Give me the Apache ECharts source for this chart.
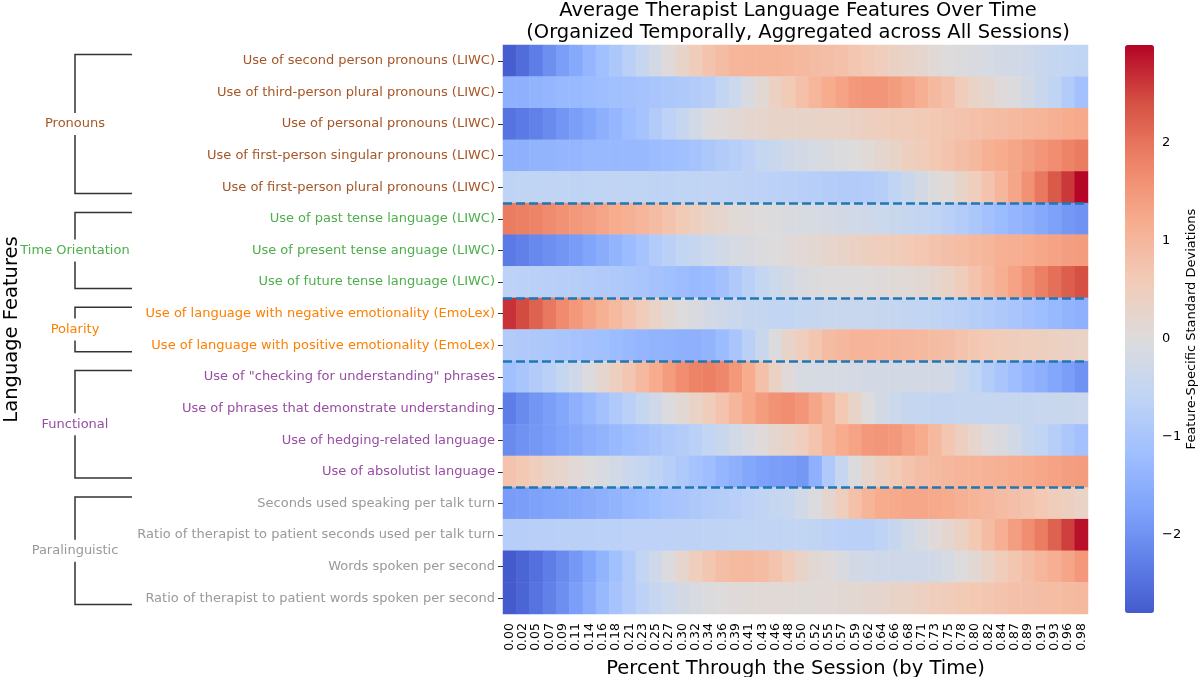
<!DOCTYPE html>
<html>
<head>
<meta charset="utf-8">
<script src="https://cdn.jsdelivr.net/npm/echarts@6/dist/echarts.min.js"></script>
<style>
html,body{margin:0;padding:0;background:#fff;}
#chart{width:1200px;height:677px;}
</style>
</head>
<body>
<div id="chart"></div>
<script>
// ---------------- DATA ----------------
const timeLabels = ['0.00','0.02','0.05','0.07','0.09','0.11','0.14','0.16','0.18','0.21','0.23','0.25','0.27','0.30','0.32','0.34','0.36','0.39','0.41','0.43','0.46','0.48','0.50','0.52','0.55','0.57','0.59','0.62','0.64','0.66','0.68','0.71','0.73','0.75','0.78','0.80','0.82','0.84','0.87','0.89','0.91','0.93','0.96','0.98'];

const featureLabels = [
  'Use of second person pronouns (LIWC)',
  'Use of third-person plural pronouns (LIWC)',
  'Use of personal pronouns (LIWC)',
  'Use of first-person singular pronouns (LIWC)',
  'Use of first-person plural pronouns (LIWC)',
  'Use of past tense language (LIWC)',
  'Use of present tense anguage (LIWC)',
  'Use of future tense language (LIWC)',
  'Use of language with negative emotionality (EmoLex)',
  'Use of language with positive emotionality (EmoLex)',
  'Use of "checking for understanding" phrases',
  'Use of phrases that demonstrate understanding',
  'Use of hedging-related language',
  'Use of absolutist language',
  'Seconds used speaking per talk turn',
  'Ratio of therapist to patient seconds used per talk turn',
  'Words spoken per second',
  'Ratio of therapist to patient words spoken per second'
];

const groupNames = ['Pronouns', 'Time Orientation', 'Polarity', 'Functional', 'Paralinguistic'];
const featureGroup = [0,0,0,0,0, 1,1,1, 2,2, 3,3,3,3, 4,4,4,4];

const secondPerson = [-2.75,-2.55,-2.3,-2.05,-1.8,-1.6,-1.35,-1.15,-0.95,-0.7,-0.45,-0.2,0.05,0.3,0.55,0.75,0.9,1.0,1.05,1.05,1.05,1.0,0.95,0.9,0.85,0.8,0.7,0.6,0.5,0.4,0.3,0.2,0.1,0.0,-0.05,-0.1,-0.15,-0.2,-0.25,-0.3,-0.4,-0.5,-0.55,-0.6];
const thirdPlural = [-1.45,-1.45,-1.4,-1.35,-1.3,-1.3,-1.25,-1.2,-1.15,-1.1,-1.05,-1.0,-0.95,-0.9,-0.85,-0.75,-0.55,-0.35,-0.1,0.15,0.4,0.6,0.8,1.0,1.2,1.35,1.5,1.55,1.55,1.45,1.3,1.15,0.95,0.8,0.55,0.35,0.2,0.05,-0.05,-0.2,-0.4,-0.6,-0.85,-1.1];
const personal = [-2.45,-2.35,-2.25,-2.1,-1.95,-1.8,-1.65,-1.5,-1.35,-1.2,-1.05,-0.85,-0.65,-0.45,-0.25,-0.05,0.05,0.15,0.2,0.25,0.3,0.3,0.3,0.3,0.35,0.35,0.4,0.45,0.5,0.55,0.55,0.6,0.65,0.7,0.75,0.8,0.85,0.9,0.95,1.0,1.05,1.1,1.2,1.25];
const firstSingular = [-1.45,-1.45,-1.4,-1.4,-1.35,-1.35,-1.3,-1.3,-1.3,-1.3,-1.3,-1.25,-1.2,-1.15,-1.05,-0.95,-0.85,-0.75,-0.65,-0.5,-0.4,-0.3,-0.2,-0.15,-0.1,-0.05,0.0,0.1,0.2,0.3,0.45,0.55,0.65,0.75,0.85,0.95,1.1,1.2,1.3,1.4,1.55,1.65,1.8,1.9];
const firstPlural = [-0.62,-0.6,-0.6,-0.58,-0.6,-0.62,-0.6,-0.6,-0.58,-0.6,-0.6,-0.62,-0.62,-0.6,-0.6,-0.58,-0.6,-0.62,-0.64,-0.66,-0.68,-0.7,-0.72,-0.75,-0.8,-0.85,-0.85,-0.82,-0.75,-0.6,-0.4,-0.2,-0.05,0.1,0.3,0.5,0.75,1.0,1.3,1.6,1.95,2.3,2.6,2.98];
const pastTense = [1.9,1.85,1.8,1.7,1.6,1.5,1.4,1.3,1.2,1.1,1.0,0.9,0.75,0.6,0.45,0.3,0.2,0.1,0.05,0.0,-0.05,-0.1,-0.12,-0.15,-0.18,-0.22,-0.26,-0.3,-0.35,-0.4,-0.45,-0.52,-0.6,-0.7,-0.82,-0.95,-1.1,-1.25,-1.35,-1.45,-1.6,-1.75,-1.9,-2.0];
const presentTense = [-2.35,-2.25,-2.15,-2.05,-1.95,-1.85,-1.7,-1.55,-1.4,-1.25,-1.05,-0.85,-0.7,-0.55,-0.45,-0.35,-0.25,-0.15,-0.1,-0.05,0.0,0.05,0.12,0.18,0.25,0.3,0.38,0.45,0.5,0.55,0.62,0.68,0.75,0.82,0.88,0.95,1.0,1.1,1.15,1.2,1.28,1.35,1.4,1.45];
const futureTense = [-0.65,-0.68,-0.7,-0.72,-0.75,-0.78,-0.82,-0.86,-0.9,-0.95,-1.0,-1.08,-1.15,-1.22,-1.28,-1.25,-1.1,-0.9,-0.7,-0.5,-0.35,-0.2,-0.1,-0.05,0.0,0.0,0.0,0.02,0.05,0.08,0.1,0.15,0.2,0.35,0.55,0.75,0.95,1.15,1.35,1.6,1.85,2.05,2.25,2.4];
const negativeEmo = [2.65,2.45,2.2,1.95,1.7,1.5,1.3,1.1,0.95,0.75,0.55,0.35,0.15,0.0,-0.1,-0.2,-0.3,-0.38,-0.45,-0.5,-0.55,-0.55,-0.5,-0.45,-0.42,-0.42,-0.42,-0.42,-0.45,-0.48,-0.52,-0.56,-0.6,-0.65,-0.7,-0.78,-0.85,-0.92,-1.0,-1.1,-1.2,-1.3,-1.4,-1.45];
const positiveEmo = [-0.85,-0.88,-0.92,-0.95,-1.0,-1.05,-1.1,-1.15,-1.25,-1.3,-1.35,-1.4,-1.42,-1.45,-1.45,-1.4,-1.25,-1.0,-0.7,-0.4,-0.05,0.3,0.5,0.7,0.9,0.98,1.02,1.02,1.0,1.0,0.98,0.95,0.9,0.85,0.75,0.68,0.62,0.58,0.52,0.48,0.45,0.42,0.38,0.35];
const checkingUnderstanding = [-1.15,-1.0,-0.85,-0.7,-0.5,-0.3,-0.05,0.2,0.45,0.7,0.95,1.2,1.45,1.65,1.8,1.85,1.75,1.5,1.2,0.8,0.4,0.05,-0.12,-0.15,-0.15,-0.15,-0.18,-0.2,-0.2,-0.22,-0.22,-0.2,-0.2,-0.25,-0.4,-0.6,-0.8,-1.0,-1.2,-1.35,-1.5,-1.65,-1.8,-2.0];
const demonstrateUnderstanding = [-2.3,-2.1,-1.95,-1.8,-1.65,-1.5,-1.3,-1.1,-0.9,-0.7,-0.5,-0.3,-0.05,0.15,0.35,0.55,0.75,1.0,1.25,1.45,1.6,1.65,1.55,1.3,1.0,0.65,0.3,0.0,-0.2,-0.35,-0.45,-0.5,-0.52,-0.52,-0.5,-0.5,-0.5,-0.48,-0.45,-0.45,-0.42,-0.4,-0.4,-0.38];
const hedging = [-2.1,-2.0,-1.9,-1.8,-1.7,-1.6,-1.5,-1.4,-1.3,-1.2,-1.1,-1.0,-0.9,-0.8,-0.7,-0.55,-0.4,-0.25,-0.1,0.05,0.2,0.35,0.5,0.75,1.0,1.2,1.35,1.5,1.55,1.5,1.35,1.2,0.95,0.7,0.45,0.25,0.05,-0.1,-0.25,-0.45,-0.6,-0.75,-0.95,-1.1];
const absolutist = [0.75,0.65,0.5,0.35,0.25,0.12,0.0,-0.12,-0.25,-0.38,-0.5,-0.62,-0.75,-0.9,-1.05,-1.2,-1.35,-1.5,-1.65,-1.75,-1.8,-1.85,-1.9,-1.45,-0.9,-0.45,-0.05,0.25,0.45,0.6,0.75,0.85,0.92,0.98,1.02,1.05,1.08,1.12,1.18,1.22,1.28,1.35,1.4,1.45];
const secondsPerTurn = [-1.85,-1.8,-1.75,-1.7,-1.65,-1.6,-1.55,-1.45,-1.4,-1.3,-1.25,-1.15,-1.05,-1.0,-0.92,-0.85,-0.78,-0.72,-0.65,-0.58,-0.5,-0.42,-0.25,-0.05,0.2,0.5,0.8,1.05,1.2,1.25,1.28,1.28,1.25,1.2,1.12,1.05,0.98,0.9,0.82,0.75,0.65,0.55,0.45,0.35];
const ratioSeconds = [-0.75,-0.75,-0.72,-0.72,-0.7,-0.7,-0.7,-0.68,-0.68,-0.66,-0.66,-0.65,-0.65,-0.64,-0.64,-0.62,-0.62,-0.6,-0.6,-0.58,-0.58,-0.56,-0.56,-0.6,-0.64,-0.68,-0.7,-0.7,-0.62,-0.45,-0.28,-0.12,0.05,0.2,0.4,0.65,0.9,1.15,1.4,1.65,1.9,2.2,2.55,2.9];
const wordsPerSecond = [-2.8,-2.65,-2.5,-2.3,-2.1,-1.9,-1.65,-1.4,-1.15,-0.85,-0.55,-0.3,-0.05,0.25,0.5,0.7,0.85,0.92,0.95,0.9,0.75,0.55,0.3,0.15,0.05,-0.1,-0.2,-0.28,-0.3,-0.32,-0.32,-0.3,-0.25,-0.15,0.0,0.15,0.35,0.55,0.7,0.85,1.0,1.15,1.3,1.5];
const ratioWords = [-2.8,-2.65,-2.45,-2.25,-2.05,-1.8,-1.55,-1.3,-1.05,-0.85,-0.65,-0.48,-0.35,-0.22,-0.12,-0.05,0.0,0.05,0.08,0.1,0.1,0.1,0.08,0.1,0.12,0.15,0.18,0.2,0.25,0.3,0.35,0.42,0.5,0.55,0.6,0.65,0.7,0.75,0.8,0.82,0.85,0.88,0.92,0.95];

const rowValues = [secondPerson, thirdPlural, personal, firstSingular, firstPlural,
  pastTense, presentTense, futureTense, negativeEmo, positiveEmo,
  checkingUnderstanding, demonstrateUnderstanding, hedging, absolutist,
  secondsPerTurn, ratioSeconds, wordsPerSecond, ratioWords];

const colorbarTicks = [-2, -1, 0, 1, 2];
const scaleMin = -2.8;
const scaleMax = 3.0;

// ---------------- STYLE ----------------
const FONT = '"DejaVu Sans", "Liberation Sans", sans-serif';
const groupColors = ['#a65628', '#4daf4a', '#ff7f00', '#984ea3', '#999999'];
const coolwarm = ['#3b4cc0','#5977e3','#7b9ff9','#9ebeff','#c0d4f5','#dddcdc','#f2cbb7','#f7ac8e','#ee8468','#d65244','#b40426'];

function hexToRgb(h){ return [parseInt(h.slice(1,3),16), parseInt(h.slice(3,5),16), parseInt(h.slice(5,7),16)]; }
function cw(t){
  t = Math.max(0, Math.min(1, t));
  const p = t * (coolwarm.length - 1);
  const i = Math.min(coolwarm.length - 2, Math.floor(p));
  const f = p - i;
  const a = hexToRgb(coolwarm[i]), b = hexToRgb(coolwarm[i+1]);
  const c = a.map((v,k)=>Math.round(v + (b[k]-v)*f));
  return 'rgb(' + c.join(',') + ')';
}
// colormap centred on 0 (diverging)
const vRange = Math.max(Math.abs(scaleMin), Math.abs(scaleMax));
const stopCount = 80;
const colorStops = [];
for (let k = 0; k <= stopCount; k++) {
  const v = scaleMin + (scaleMax - scaleMin) * k / stopCount;
  colorStops.push(cw(0.5 + v / (2 * vRange)));
}

// ---------------- BUILD ----------------
const heatData = [];
rowValues.forEach((row, r) => row.forEach((v, c) => heatData.push([c, r, v])));

const groups = groupNames.map((name, gi) => {
  const idx = featureGroup.map((g, i) => g === gi ? i : -1).filter(i => i >= 0);
  return { name, start: idx[0], end: idx[idx.length - 1] + 1, color: groupColors[gi] };
});
const boundaries = groups.slice(0, -1).map(g => g.end);

const chart = echarts.init(document.getElementById('chart'), null, {renderer: 'canvas'});

const option = {
  animation: false,
  backgroundColor: '#ffffff',
  textStyle: { fontFamily: FONT },
  title: {
    text: 'Average Therapist Language Features Over Time\n(Organized Temporally, Aggregated across All Sessions)',
    left: 798,
    top: 0,
    padding: 0,
    textAlign: 'center',
    textStyle: { fontFamily: FONT, fontSize: 19.5, fontWeight: 'normal', color: '#000', lineHeight: 22 }
  },
  grid: [
    { left: 503, top: 45, width: 585, height: 569, containLabel: false, outerBoundsMode: 'none' },
    { left: 1125, top: 45, width: 29, height: 568, containLabel: false, outerBoundsMode: 'none' }
  ],
  xAxis: [
    {
      type: 'category', gridIndex: 0, data: timeLabels,
      axisLine: { show: false },
      axisTick: { show: true, alignWithLabel: true, length: 5, lineStyle: { color: '#333' } },
      axisLabel: { rotate: 90, interval: 0, fontSize: 12.5, color: '#000', margin: 9, fontFamily: FONT },
      splitLine: { show: false },
      name: 'Percent Through the Session (by Time)',
      nameLocation: 'middle', nameGap: 39,
      nameTextStyle: { fontSize: 19.5, color: '#000', fontFamily: FONT }
    },
    { type: 'value', gridIndex: 1, show: false, min: 0, max: 1 }
  ],
  yAxis: [
    {
      type: 'category', gridIndex: 0, inverse: true,
      data: featureLabels.map((f, i) => ({ value: f, textStyle: { color: groupColors[featureGroup[i]] } })),
      axisLine: { show: false },
      axisTick: { show: true, alignWithLabel: true, length: 5, lineStyle: { color: '#333' } },
      axisLabel: { fontSize: 13, margin: 8, fontFamily: FONT },
      splitLine: { show: false },
      name: 'Language Features',
      nameLocation: 'middle', nameGap: 481, nameRotate: 90,
      nameTextStyle: { fontSize: 19.5, color: '#000', fontFamily: FONT }
    },
    { type: 'value', gridIndex: 0, show: false, min: 0, max: featureLabels.length, inverse: true },
    {
      type: 'value', gridIndex: 1, min: scaleMin, max: scaleMax, position: 'right',
      axisLine: { show: false },
      splitLine: { show: false },
      axisTick: { show: true, length: 4, customValues: colorbarTicks, lineStyle: { color: '#000' } },
      axisLabel: {
        customValues: colorbarTicks, fontSize: 13, margin: 8, color: '#000', fontFamily: FONT,
        formatter: v => (v < 0 ? '\u2212' + Math.abs(v) : String(v))
      },
      name: 'Feature-Specific Standard Deviations',
      nameLocation: 'middle', nameGap: 30, nameRotate: 90,
      nameTextStyle: { fontSize: 13, color: '#000', fontFamily: FONT }
    }
  ],
  visualMap: {
    type: 'continuous',
    min: scaleMin, max: scaleMax,
    seriesIndex: 0, dimension: 2,
    calculable: false, hoverLink: false,
    left: 1125, top: 45, itemWidth: 29, itemHeight: 568,
    padding: 0,
    inRange: { color: colorStops }
  },
  series: [
    {
      type: 'heatmap', xAxisIndex: 0, yAxisIndex: 0,
      data: heatData,
      itemStyle: { borderWidth: 0 },
      emphasis: { disabled: true },
      progressive: 0
    },
    {
      type: 'line', xAxisIndex: 0, yAxisIndex: 1, data: [], silent: true,
      markLine: {
        silent: true, symbol: ['none', 'none'], animation: false,
        label: { show: false },
        lineStyle: { color: '#1f77b4', width: 2.5, type: [9, 4], opacity: 1 },
        emphasis: { disabled: true },
        data: boundaries.map(b => ({ yAxis: b }))
      }
    }
  ]
};

chart.setOption(option);

// group brackets on the left
const bracketX = 75, bracketEnd = 132, gapHalf = 11;
const els = [];
groups.forEach(g => {
  const yTop = chart.convertToPixel({ yAxisIndex: 1 }, g.start + 0.3);
  const yBot = chart.convertToPixel({ yAxisIndex: 1 }, g.end - 0.3);
  const yMid = chart.convertToPixel({ yAxisIndex: 1 }, (g.start + g.end) / 2);
  const ls = { stroke: '#333', lineWidth: 1.5, fill: null };
  els.push({ type: 'polyline', silent: true, shape: { points: [[bracketEnd, yTop], [bracketX, yTop], [bracketX, yMid - gapHalf]] }, style: ls });
  els.push({ type: 'polyline', silent: true, shape: { points: [[bracketX, yMid + gapHalf], [bracketX, yBot], [bracketEnd, yBot]] }, style: ls });
  els.push({ type: 'text', silent: true, x: bracketX, y: yMid,
    style: { text: g.name, fill: g.color, font: '13px ' + FONT, textAlign: 'center', textVerticalAlign: 'middle', align: 'center', verticalAlign: 'middle' } });
});
chart.setOption({ graphic: els });
</script>
</body>
</html>
